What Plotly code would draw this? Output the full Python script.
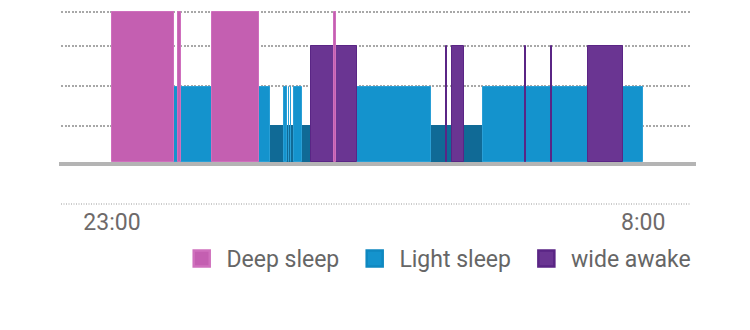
import plotly.graph_objects as go

# minutes after 23:00
deep_start = [0, 67, 101.6, 225.6]
deep_end = [63, 70.6, 149.1, 227.4]
light_start = [63, 175.1, 179.6, 181.6, 185, 249.3, 377]
light_end = [160.6, 178.2, 180.3, 182.3, 193.1, 324.5, 540]
dark_start = [160.6, 324.5]
dark_end = [202.3, 377]
awake_start = [202.3, 339.5, 345.6, 419.8, 445.8, 483.5]
awake_end = [249.3, 341, 357.8, 421.2, 447.2, 519.7]

levels = {"deep": 3.75, "awake": 2.9, "light": 1.875, "dark": 0.9}
grid_levels = [0.9, 1.9, 2.9, 3.75]
tick_vals = [0, 540]
tick_text = ["23:00", "8:00"]
legend_names = ["Deep sleep", "Light sleep", "wide awake"]

C_DEEP = "#c45fb1"
C_LIGHT = "#1493cd"
C_DARK = "#106a96"
C_AWAKE = "#6a3592"

def bar(starts, ends, level, color, line_color):
    return go.Bar(
        x=[(s + e) / 2 for s, e in zip(starts, ends)],
        width=[e - s for s, e in zip(starts, ends)],
        y=[level] * len(starts),
        marker=dict(color=color, line=dict(color=line_color, width=1)),
        showlegend=False, hoverinfo="skip",
    )

fig = go.Figure()
fig.add_trace(bar(dark_start, dark_end, levels["dark"], C_DARK, C_DARK))
fig.add_trace(bar(light_start, light_end, levels["light"], C_LIGHT, "#2a9fd6"))
fig.add_trace(bar(awake_start, awake_end, levels["awake"], C_AWAKE, "#5a2585"))
fig.add_trace(bar(deep_start, deep_end, levels["deep"], C_DEEP, "#cf6fbd"))

for name, col, lc in zip(legend_names, [C_DEEP, C_LIGHT, C_AWAKE], ["#cf70bd", "#0f88c0", "#5a2585"]):
    fig.add_trace(go.Scatter(
        x=[None], y=[None], mode="markers", name="\u2009" + name + "\u00a0\u2009",
        marker=dict(symbol="square", size=16, color=col, line=dict(color=lc, width=2.5)),
    ))

fig.update_layout(
    width=750, height=330,
    margin=dict(l=61, r=59, t=10, b=164),
    paper_bgcolor="white", plot_bgcolor="white",
    barmode="overlay", bargap=0,
    font=dict(family="Roboto", size=23, color="#666666"),
    showlegend=True,
    legend=dict(orientation="h", x=0.1916, xanchor="left", y=-0.455, yanchor="top",
                font=dict(size=23, color="#666666"), itemsizing="trace",
                bgcolor="rgba(0,0,0,0)"),
    xaxis=dict(range=[-51.8, 588.5], showgrid=False, zeroline=False, showline=False,
               tickvals=tick_vals, ticktext=tick_text, ticks="",
               ticklabelstandoff=40, tickfont=dict(size=23, color="#6e6a6a")),
    yaxis=dict(range=[-0.1, 3.8], tickvals=grid_levels, showticklabels=False,
               showgrid=True, gridcolor="#a8a8a8", gridwidth=2, griddash="2px,1.5px",
               zeroline=False, showline=False),
    shapes=[
        dict(type="line", xref="paper", yref="y", x0=-2/630, x1=1+5/630, y0=-0.05, y1=-0.05,
             line=dict(color="#b4b4b4", width=4), layer="below"),
        dict(type="line", xref="paper", yref="paper", x0=0, x1=1, y0=-38/156, y1=-38/156,
             line=dict(color="#9a9a9a", width=1.2, dash="1px,1.5px")),
    ],
)

fig.write_html("out.html")
